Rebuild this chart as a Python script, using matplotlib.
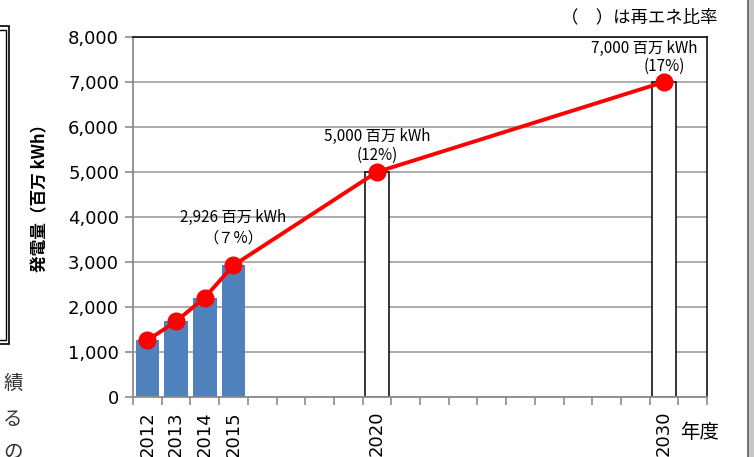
import matplotlib
matplotlib.use("Agg")
import matplotlib.pyplot as plt
from matplotlib.patches import Rectangle
from matplotlib.ticker import FuncFormatter

plt.rcParams['font.family'] = ['Noto Sans CJK JP', 'DejaVu Sans']

# categories (fiscal years) on the x axis
years = list(range(2012, 2032))
shown_years = [2012, 2013, 2014, 2015, 2020, 2030]

# actual generation (blue bars)
actual_years = [2012, 2013, 2014, 2015]
actual_vals = [1260, 1680, 2210, 2926]

# targets (white bars)
target_years = [2020, 2030]
target_vals = [5000, 7000]

# tiny second series (green)
other_years = [2012, 2017, 2027]
other_vals = [25, 30, 30]

# line through actual + targets
line_years = actual_years + target_years
line_vals = actual_vals + target_vals

# labels above points
label_years = [2015, 2020, 2030]
label_main = ["2,926 百万 kWh", "5,000 百万 kWh", "7,000 百万 kWh"]
label_ratio = ["（７%）", "(12%)", "(17%)"]

idx = {y: i for i, y in enumerate(years)}

fig = plt.figure(figsize=(7.54, 4.57), dpi=100)
ax = fig.add_axes([133 / 754, 1 - 397 / 457, 574 / 754, 360 / 457])

w = 0.82
ax.bar([idx[y] for y in actual_years], actual_vals, width=w, color="#4f81bd", zorder=2)
ax.bar([idx[y] for y in target_years], target_vals, width=w, color="white",
       edgecolor="black", linewidth=1.1, zorder=2)
ax.bar([idx[y] for y in other_years], other_vals, width=w, color="#9bbb59", zorder=2)

ax.plot([idx[y] for y in line_years], line_vals, color="red", lw=2.8,
        marker="o", markersize=12, zorder=4)

ax.set_xlim(-0.5, len(years) - 0.5)
ax.set_ylim(0, 8000)
ax.set_yticks(range(0, 8001, 1000))
ax.yaxis.set_major_formatter(FuncFormatter(lambda v, p: f"{int(v):,}"))
ax.grid(axis="y", color="#a6a6a6", lw=1.3, zorder=1)
ax.set_axisbelow(True)

ax.set_xticks([idx[y] for y in shown_years])
ax.set_xticklabels([str(y) for y in shown_years], rotation=90, fontsize=13,
                   family="DejaVu Sans")
ax.set_xticks([i - 0.5 for i in range(len(years) + 1)], minor=True)
ax.tick_params(axis="x", which="major", length=0, pad=10)
ax.tick_params(axis="x", which="minor", length=6, color="#8c8c8c", width=1.2)
ax.tick_params(axis="y", labelsize=13, length=6, color="#8c8c8c", width=1.2, pad=4)
for lab in ax.get_yticklabels():
    lab.set_family("DejaVu Sans")

for s in ["left", "bottom"]:
    ax.spines[s].set_color("#8c8c8c")
    ax.spines[s].set_linewidth(1.3)
for s in ["top", "right"]:
    ax.spines[s].set_color("black")
    ax.spines[s].set_linewidth(1.1)

fig.text(40 / 754, 1 - 194 / 457, "発電量（百万 kWh）", fontsize=12, fontweight="bold",
         rotation=90, ha="center", va="center")

# offsets of the labels above each point (x in categories, y in data units)
main_dx = [0, 0, -0.7]
main_dy = [1070, 800, 755]
ratio_dx = [0, 0, 0]
ratio_dy = [600, 360, 355]
for k, y in enumerate(label_years):
    x = idx[y]
    v = line_vals[line_years.index(y)]
    ax.text(x + main_dx[k], v + main_dy[k], label_main[k], ha="center", va="center",
            fontsize=11)
    ax.text(x + ratio_dx[k], v + ratio_dy[k], label_ratio[k], ha="center", va="center",
            fontsize=11)

fig.text(680 / 754, 1 - 432 / 457, "年度", fontsize=14, va="center", ha="left")
fig.text(639 / 754, 1 - 17 / 457, "（　）は再エネ比率", fontsize=12.5, va="center", ha="center")

# pieces of the surrounding page
fig.patches.append(Rectangle((-2 / 754, 1 - 344 / 457), 11 / 754, 318 / 457,
                             transform=fig.transFigure, fill=False, ec="black", lw=1.2))
fig.patches.append(Rectangle((-2 / 754, 1 - 340 / 457), 8 / 754, 310 / 457,
                             transform=fig.transFigure, fill=False, ec="black", lw=1.0))
fig.patches.append(Rectangle((748 / 754, 0), 6 / 754, 1, transform=fig.transFigure,
                             color="#c8c8c8", lw=0))
fig.lines.append(plt.Line2D([748 / 754, 748 / 754], [0, 1], transform=fig.transFigure,
                            color="#606060", lw=1.2))
for ch, yy in zip(["績", "る", "の"], [383, 419, 452]):
    fig.text(13 / 754, 1 - yy / 457, ch, fontsize=14, ha="center", va="center",
             color="#333333")

fig.savefig("out.png", dpi=100)
